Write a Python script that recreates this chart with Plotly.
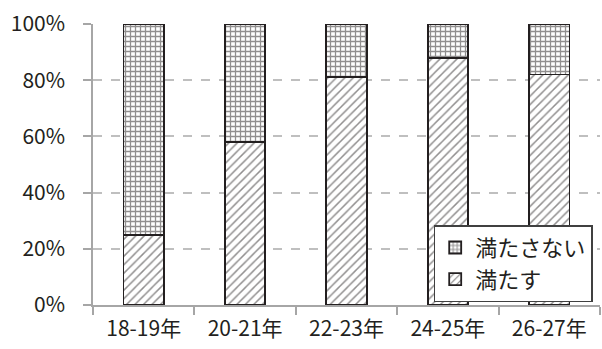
import plotly.graph_objects as go

categories = ["18-19年", "20-21年", "22-23年", "24-25年", "26-27年"]
meets = [25, 58, 81, 88, 82]          # 満たす (%)
not_meets = [75, 42, 19, 12, 18]      # 満たさない (%)
y_ticks = [0, 20, 40, 60, 80, 100]
y_tick_labels = [f"{v}%" for v in y_ticks]

ink = "#231f20"
grey = "#a6a6a6"
font_family = "Noto Sans CJK JP"

fig = go.Figure()
fig.add_trace(go.Bar(
    x=categories, y=meets, name="満たす",
    width=0.4,
    marker=dict(
        color="white",
        line=dict(color=ink, width=1.8),
        pattern=dict(shape="/", fgcolor=ink, bgcolor="white", size=6, solidity=0.25, fillmode="overlay"),
    ),
))
fig.add_trace(go.Bar(
    x=categories, y=not_meets, name="満たさない",
    width=0.4,
    marker=dict(
        color="white",
        line=dict(color=ink, width=1.8),
        pattern=dict(shape="+", fgcolor=ink, bgcolor="white", size=5, solidity=0.45, fillmode="overlay"),
    ),
))

fig.update_layout(
    width=602, height=349,
    margin=dict(l=93, r=2, t=24, b=44),
    barmode="stack",
    plot_bgcolor="white", paper_bgcolor="white",
    font=dict(family=font_family, color=ink, size=21),
    showlegend=True,
    legend=dict(
        traceorder="reversed",
        x=0.672, y=0.01, xanchor="left", yanchor="bottom",
        bgcolor="white", bordercolor="#404040", borderwidth=1.5,
        font=dict(size=22, family=font_family, color=ink),
        itemwidth=30,
    ),
    xaxis=dict(
        type="category",
        showline=True, linecolor=grey, linewidth=1.5,
        ticks="outside", tickson="boundaries", ticklen=8, tickcolor=grey, tickwidth=1.5,
        ticklabelstandoff=4,
        showgrid=False,
    ),
    yaxis=dict(
        range=[0, 100], tickmode="array", tickvals=y_ticks, ticktext=y_tick_labels,
        showline=True, linecolor=grey, linewidth=1.5,
        ticks="outside", ticklen=8, tickcolor=grey, tickwidth=1.5,
        ticklabelstandoff=14,
        showgrid=True, gridcolor="#bfbfbf", gridwidth=1.5, griddash="dash",
        zeroline=False,
    ),
)

fig.write_html("out.html")
